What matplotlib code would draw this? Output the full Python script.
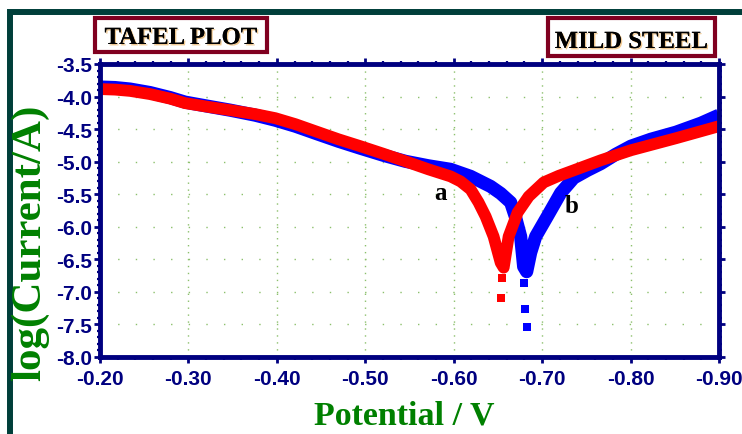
import matplotlib
matplotlib.use("Agg")
import matplotlib.pyplot as plt
import matplotlib.patheffects as pe
from matplotlib.patches import Rectangle
from matplotlib.ticker import MultipleLocator, FormatStrFormatter

plt.rcParams['axes.unicode_minus'] = False

# curve a (red) - potential [V], log(current/A)
Ea = [-0.2000, -0.2170, -0.2340, -0.2566, -0.2793, -0.2963, -0.3246, -0.3472,
      -0.3756, -0.3982, -0.4209, -0.4435, -0.4696, -0.4945, -0.5205, -0.5455,
      -0.5715, -0.5964, -0.6077, -0.6191, -0.6281, -0.6361, -0.6451, -0.6531,
      -0.6565, -0.6621, -0.6723, -0.6848, -0.7018, -0.7187, -0.7357, -0.7663,
      -0.8003, -0.8513, -0.9000]
La = [-3.885, -3.893, -3.913, -3.962, -4.032, -4.101, -4.163, -4.209,
      -4.270, -4.332, -4.424, -4.532, -4.656, -4.763, -4.879, -4.995,
      -5.118, -5.226, -5.303, -5.426, -5.626, -5.842, -6.150, -6.551,
      -6.628, -6.150, -5.780, -5.534, -5.318, -5.218, -5.133, -4.979,
      -4.825, -4.640, -4.455]
Ea_tail = [-0.655, -0.653]
La_tail = [-6.78, -7.09]

# curve b (blue)
Eb = [-0.2000, -0.2170, -0.2340, -0.2566, -0.2793, -0.2963, -0.3246, -0.3472,
      -0.3756, -0.3982, -0.4209, -0.4435, -0.4696, -0.4945, -0.5205, -0.5455,
      -0.5715, -0.5964, -0.6191, -0.6417, -0.6531, -0.6644, -0.6700, -0.6757,
      -0.6791, -0.6825, -0.6870, -0.6927, -0.7063, -0.7210, -0.7357, -0.7516,
      -0.7663, -0.7833, -0.8003, -0.8229, -0.8513, -0.8796, -0.9000]
Lb = [-3.854, -3.862, -3.885, -3.939, -4.016, -4.086, -4.155, -4.209,
      -4.286, -4.363, -4.455, -4.563, -4.686, -4.794, -4.902, -4.995,
      -5.064, -5.118, -5.226, -5.380, -5.488, -5.626, -5.857, -6.150,
      -6.612, -6.689, -6.397, -6.150, -5.830, -5.480, -5.250, -5.130,
      -5.030, -4.887, -4.763, -4.656, -4.548, -4.409, -4.286]
Eb_tail = [-0.679, -0.681, -0.683]
Lb_tail = [-6.86, -7.27, -7.54]

navy = '#000080'
W, H = 742, 435

fig = plt.figure(figsize=(W / 100, H / 100), dpi=100)
ax = fig.add_axes([100 / W, 1 - 358 / H, 619 / W, 293 / H])

# curves
ax.plot(Eb, Lb, color='#0000ff', lw=9.5, solid_joinstyle='round', solid_capstyle='butt')
ax.plot(Eb_tail, Lb_tail, 's', color='#0000ff', ms=6, mew=0)
ax.plot(Ea, La, color='#ff0000', lw=8.5, solid_joinstyle='round', solid_capstyle='butt')
ax.plot(Ea_tail, La_tail, 's', color='#ff0000', ms=6, mew=0)

ax.set_xlim(-0.20, -0.90)
ax.set_ylim(-8.0, -3.5)

ax.xaxis.set_major_locator(MultipleLocator(0.1))
ax.xaxis.set_minor_locator(MultipleLocator(0.02))
ax.yaxis.set_major_locator(MultipleLocator(0.5))
ax.yaxis.set_minor_locator(MultipleLocator(0.1))
ax.xaxis.set_major_formatter(FormatStrFormatter('%.2f'))
ax.yaxis.set_major_formatter(FormatStrFormatter('%.1f'))

# dotted grid
for xv in [-0.3, -0.4, -0.5, -0.6, -0.7, -0.8]:
    ax.axvline(xv, color='#8cc06c', lw=1.0, ls=(0, (1, 4)), zorder=0)
for yv in [-4.0, -4.5, -5.0, -5.5, -6.0, -6.5, -7.0, -7.5]:
    ax.axhline(yv, color='#8cc06c', lw=1.0, ls=(0, (1, 11.7)), zorder=0)

for s in ax.spines.values():
    s.set_color(navy)
    s.set_linewidth(3.5)

ax.tick_params(which='both', direction='out', color=navy, top=True, right=True,
               labelcolor=navy)
ax.tick_params(which='major', length=4.5, width=2)
ax.tick_params(which='minor', length=2.5, width=1.6)
ax.tick_params(axis='y', pad=1.5)
ax.tick_params(axis='x', pad=4)
for lab in ax.get_xticklabels() + ax.get_yticklabels():
    lab.set_family('Liberation Sans')
    lab.set_weight('bold')
    lab.set_fontsize(15)

# curve labels
ax.text(-0.585, -5.47, 'a', family='Liberation Serif', weight='bold', fontsize=18,
        ha='center', va='center')
ax.text(-0.7335, -5.67, 'b', family='Liberation Serif', weight='bold', fontsize=18,
        ha='center', va='center')

# axis titles
fig.text(30 / W, 1 - 243 / H, 'log(Current/A)', rotation=90, ha='center', va='center',
         family='Liberation Serif', weight='bold', fontsize=31, color='#008000')
fig.text(404 / W, 1 - 425 / H, 'Potential / V', ha='center', va='baseline',
         family='Liberation Serif', weight='bold', fontsize=24.5, color='#008000')

# boxed captions
shadow = [pe.withSimplePatchShadow(offset=(1, -1), shadow_rgbFace='#e09020', alpha=0.5),
          pe.Normal()]
for (x0, y0, x1, y1, txt) in [(95, 19, 267, 53, 'TAFEL PLOT'),
                              (548, 19, 715, 57, 'MILD STEEL')]:
    fig.add_artist(Rectangle((x0 / W, 1 - y1 / H), (x1 - x0) / W, (y1 - y0) / H,
                             transform=fig.transFigure, fill=True, fc='white',
                             ec='#800020', lw=3))
    fig.text((x0 + x1) / 2 / W, 1 - (y1 - 8) / H, txt, ha='center', va='baseline',
             family='Liberation Serif', weight='bold', fontsize=17.8, color='black',
             path_effects=shadow)

# outer frame (left and top edges visible)
fig.add_artist(Rectangle((10 / W, -0.2), 2, 1.2 - 13 / H, transform=fig.transFigure,
                         fill=False, ec='#003f3a', lw=4.3, clip_on=False))

fig.savefig('out.png', dpi=100)
